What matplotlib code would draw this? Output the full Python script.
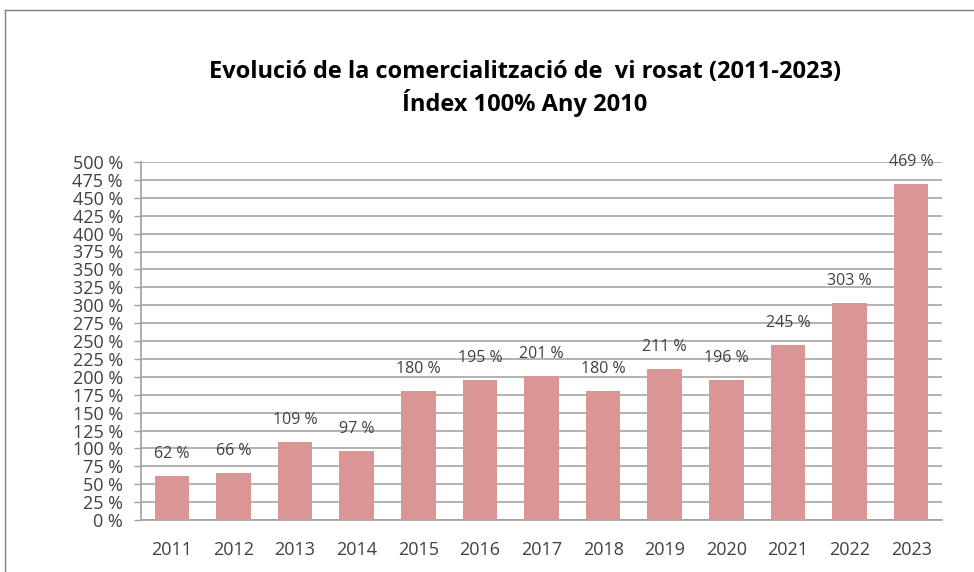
import matplotlib
matplotlib.use("Agg")
import matplotlib.pyplot as plt
from matplotlib.lines import Line2D

years = ["2011", "2012", "2013", "2014", "2015", "2016", "2017", "2018", "2019", "2020", "2021", "2022", "2023"]
values = [62, 66, 109, 97, 180, 195, 201, 180, 211, 196, 245, 303, 469]
yticks = list(range(0, 501, 25))

plt.rcParams['font.family'] = ['Open Sans', 'DejaVu Sans']

W, H = 974, 572
fig = plt.figure(figsize=(W / 100, H / 100), dpi=100)
ax = fig.add_axes([141 / W, 1 - 520 / H, (942 - 141) / W, (520 - 162) / H])

x = range(len(years))
ax.bar(x, values, width=0.56, color="#D99694", zorder=3)
ax.set_xlim(-0.5, len(years) - 0.5)
ax.set_ylim(0, 500)
ax.set_yticks(yticks)
ax.set_yticklabels([f"{v} %" for v in yticks], fontsize=13, color="#404040")
ax.set_xticks(list(x))
ax.set_xticklabels(years, fontsize=13, color="#404040")
ax.tick_params(axis='y', length=5, width=1, color="#A0A0A0", pad=8)
ax.tick_params(axis='x', length=0, pad=15)
ax.yaxis.grid(True, color="#A6A6A6", linewidth=1.2, zorder=0)
for s in ["top", "right"]:
    ax.spines[s].set_visible(False)
for s in ["left", "bottom"]:
    ax.spines[s].set_color("#A0A0A0")
    ax.spines[s].set_linewidth(1.2)

for i, v in enumerate(values):
    ax.annotate(f"{v} %", (i, v), xytext=(0, 10), textcoords="offset points",
                ha="center", va="bottom", fontsize=11.5, color="#404040", zorder=4)

fig.text(525 / W, 1 - 72 / H, "Evolució de la comercialització de  vi rosat (2011-2023)",
         ha="center", va="center", fontsize=17, fontweight="bold", color="#000000")
fig.text(525 / W, 1 - 103 / H, "Índex 100% Any 2010",
         ha="center", va="center", fontsize=17, fontweight="bold", color="#000000")

fig.add_artist(Line2D([5 / W, 1], [1 - 10 / H, 1 - 10 / H], transform=fig.transFigure, color="#808080", linewidth=1))
fig.add_artist(Line2D([5 / W, 5 / W], [0, 1 - 10 / H], transform=fig.transFigure, color="#808080", linewidth=1))

fig.savefig("out.png", dpi=100)
